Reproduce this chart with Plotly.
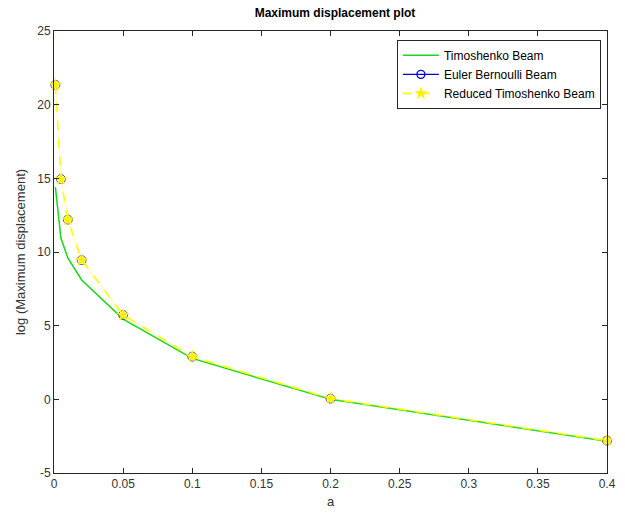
import plotly.graph_objects as go

# Data
a_vals = [0.001, 0.005, 0.01, 0.02, 0.05, 0.1, 0.2, 0.4]
timoshenko = [14.4, 10.95, 9.6, 8.1, 5.45, 2.78, 0.0, -2.85]
euler_bernoulli = [21.35, 14.95, 12.2, 9.45, 5.72, 2.9, 0.05, -2.8]
reduced_timoshenko = [21.35, 14.95, 12.2, 9.45, 5.72, 2.9, 0.05, -2.8]

x_ticks = [0, 0.05, 0.1, 0.15, 0.2, 0.25, 0.3, 0.35, 0.4]
x_tick_labels = ["0", "0.05", "0.1", "0.15", "0.2", "0.25", "0.3", "0.35", "0.4"]
y_ticks = [-5, 0, 5, 10, 15, 20, 25]
y_tick_labels = ["-5", "0", "5", "10", "15", "20", "25"]

FONT = "Liberation Sans, Arial, Helvetica, sans-serif"
GREEN = "rgb(25,215,25)"
BLUE = "rgb(0,0,220)"
YELLOW = "rgb(255,255,0)"

fig = go.Figure()
fig.add_trace(go.Scatter(
    x=a_vals, y=timoshenko, mode="lines", name="Timoshenko Beam",
    line=dict(color=GREEN, width=1.5), cliponaxis=False))
# Euler-Bernoulli: markers on the plot (its line is hidden under the yellow one)
fig.add_trace(go.Scatter(
    x=a_vals, y=euler_bernoulli, mode="markers", name="Euler Bernoulli Beam",
    marker=dict(symbol="circle-open", size=9, color="rgb(90,90,130)", line=dict(width=1)),
    showlegend=False, legendgroup="eb", cliponaxis=False))
fig.add_trace(go.Scatter(
    x=[None], y=[None], mode="lines+markers", name="Euler Bernoulli Beam",
    line=dict(color=BLUE, width=1.2),
    marker=dict(symbol="circle-open", size=8, color=BLUE, line=dict(width=1.3)),
    legendgroup="eb"))
# faint underlay of the reduced line
fig.add_trace(go.Scatter(
    x=a_vals, y=reduced_timoshenko, mode="lines", showlegend=False,
    line=dict(color="rgba(255,255,0,0.25)", width=1.5), hoverinfo="skip"))
fig.add_trace(go.Scatter(
    x=a_vals, y=reduced_timoshenko, mode="lines+markers", name="Reduced Timoshenko Beam",
    line=dict(color=YELLOW, width=1.6, dash="dash"),
    marker=dict(symbol="star", size=10, color="rgb(255,240,0)", line=dict(width=0)),
    cliponaxis=False))

axis_common = dict(
    showline=True, linecolor="#262626", linewidth=1, mirror="ticks",
    ticks="inside", ticklen=5, tickcolor="#262626", tickwidth=1,
    showgrid=False, zeroline=False,
    tickfont=dict(family=FONT, size=12, color="#333333"),
)

fig.update_layout(
    width=625, height=516,
    margin=dict(l=54, r=9, t=31, b=42),
    paper_bgcolor="white", plot_bgcolor="white",
    title=dict(text="Maximum displacement plot", x=(54 + 616) / 2 / 625, xanchor="center",
               y=1 - 13 / 516, yanchor="middle",
               font=dict(family=FONT, size=12, color="black", weight="bold")),
    xaxis=dict(range=[0, 0.4], tickvals=x_ticks, ticktext=x_tick_labels,
               title=dict(text="a", font=dict(family=FONT, size=13, color="#333333"), standoff=6),
               **axis_common),
    yaxis=dict(range=[-5, 25], tickvals=y_ticks, ticktext=y_tick_labels,
               title=dict(text="log (Maximum displacement)", font=dict(family=FONT, size=13, color="#333333"), standoff=8),
               **axis_common),
    legend=dict(x=0.989, y=0.98, xanchor="right", yanchor="top",
                bgcolor="white", bordercolor="#262626", borderwidth=1,
                font=dict(family=FONT, size=12, color="black"),
                tracegroupgap=0, itemwidth=36),
    showlegend=True,
)

fig.write_html("out.html")
